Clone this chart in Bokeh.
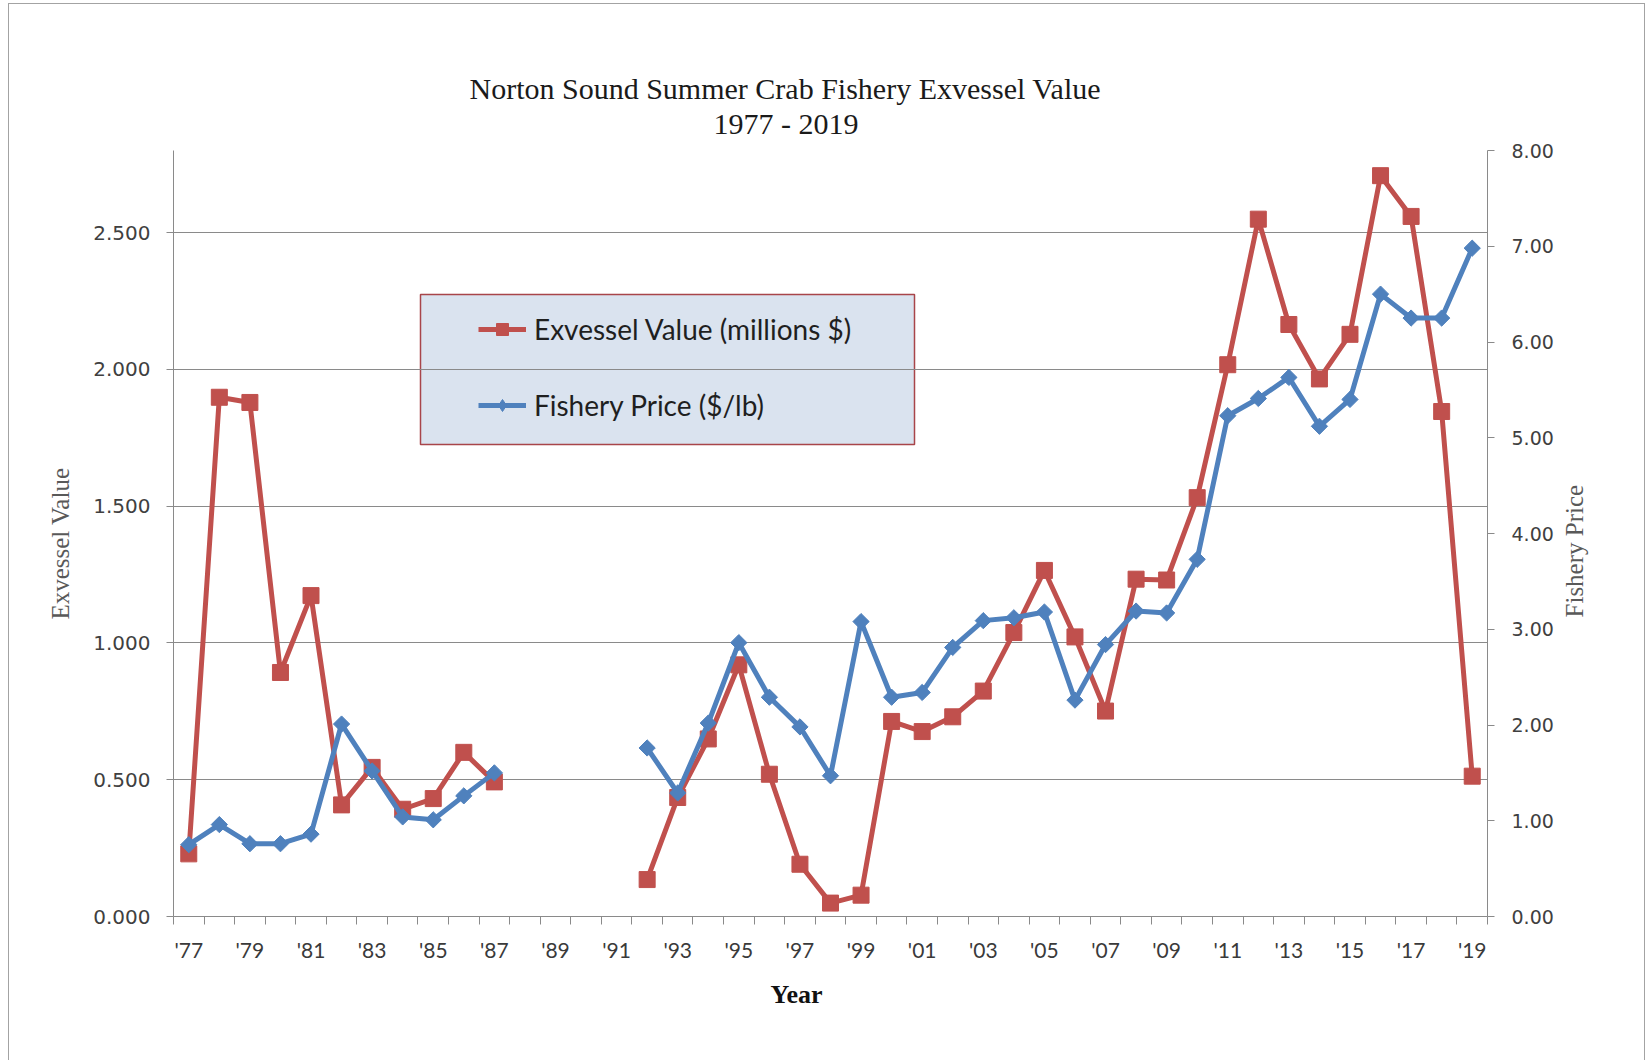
import math
from bokeh.plotting import figure
from bokeh.models import (Range1d, LinearAxis, FixedTicker, BoxAnnotation, Legend,
                          LegendItem, Title, ColumnDataSource, PrintfTickFormatter)
from bokeh.embed import file_html
from bokeh.resources import INLINE

nan = float("nan")

# ---------------- data ----------------
years = list(range(1977, 2020))
exvessel_value = [0.229, 1.898, 1.879, 0.892, 1.173, 0.408, 0.545, 0.392, 0.431, 0.600, 0.492,
                  nan, nan, nan, nan,
                  0.135, 0.435, 0.649, 0.920, 0.520, 0.191, 0.049, 0.078, 0.713, 0.676,
                  0.730, 0.824, 1.038, 1.265, 1.022, 0.751, 1.233, 1.230, 1.531, 2.017,
                  2.549, 2.164, 1.965, 2.128, 2.708, 2.559, 1.846, 0.513]
fishery_price = [0.75, 0.96, 0.76, 0.76, 0.86, 2.01, 1.52, 1.04, 1.01, 1.26, 1.50,
                 nan, nan, nan, nan,
                 1.76, 1.29, 2.02, 2.86, 2.29, 1.98, 1.47, 3.08, 2.29, 2.34,
                 2.81, 3.09, 3.12, 3.18, 2.26, 2.84, 3.19, 3.17, 3.73, 5.23,
                 5.41, 5.63, 5.12, 5.40, 6.50, 6.25, 6.25, 6.98]
label_years = list(range(1977, 2020, 2))
x_tick_labels = ["'77", "'79", "'81", "'83", "'85", "'87", "'89", "'91", "'93", "'95", "'97",
                 "'99", "'01", "'03", "'05", "'07", "'09", "'11", "'13", "'15", "'17", "'19"]
left_ticks = [0.0, 0.5, 1.0, 1.5, 2.0, 2.5]
right_ticks = [0, 1, 2, 3, 4, 5, 6, 7, 8]

RED = "#C0504D"
BLUE = "#4F81BD"
GRID = "#8a8a8a"
SERIF = "Liberation Serif"
SANS = "DejaVu Sans"
NARROW = "Lato"

# ---------------- layout (canvas px) ----------------
W, H = 1637, 1057
ML, MR, MT, MB = 164, 159, 146, 145
X0, X1 = 1976.5, 2019.5
Y0, Y1 = 0.0, 2.8
P0, P1 = 0.0, 8.0
FW, FH = W - ML - MR, H - MT - MB


def px2x(px):
    return X0 + (px - ML) / FW * (X1 - X0)


def py2y(py):
    return Y0 + (MT + FH - py) / FH * (Y1 - Y0)


def py2p(py):
    return P0 + (MT + FH - py) / FH * (P1 - P0)


src = ColumnDataSource(dict(year=years, value=exvessel_value, price=fishery_price))

p = figure(width=W, height=H, x_range=Range1d(X0, X1), y_range=Range1d(Y0, Y1),
           output_backend="svg", toolbar_location=None, title=None,
           min_border_left=ML, min_border_right=MR, min_border_top=MT, min_border_bottom=MB)
p.outline_line_color = None
p.background_fill_color = "white"
p.border_fill_color = "white"
p.styles = {"border-left": "1px solid #a3a3a3", "border-top": "1px solid #a3a3a3",
            "border-right": "1px solid #a3a3a3", "margin-left": "8px", "margin-top": "3px"}

p.extra_y_ranges = {"price": Range1d(P0, P1)}

# x axis
xa = p.xaxis[0]
xa.ticker = FixedTicker(ticks=label_years, minor_ticks=[y - 0.5 for y in years] + [years[-1] + 0.5])
xa.major_label_overrides = {y: lab for y, lab in zip(label_years, x_tick_labels)}
xa.major_tick_line_color = None
xa.minor_tick_line_color = GRID
xa.minor_tick_out = 8
xa.minor_tick_in = 0
xa.axis_line_color = GRID
xa.major_label_text_font = NARROW
xa.major_label_text_font_size = "21px"
xa.major_label_text_color = "#3a3a3a"
xa.major_label_standoff = 12

# left axis
ya = p.yaxis[0]
ya.ticker = FixedTicker(ticks=left_ticks)
ya.formatter = PrintfTickFormatter(format="%.3f")
ya.minor_tick_line_color = None
ya.major_tick_line_color = GRID
ya.major_tick_out = 7
ya.major_tick_in = 0
ya.axis_line_color = GRID
ya.major_label_text_font = SANS
ya.major_label_text_font_size = "20px"
ya.major_label_text_color = "#404040"
ya.major_label_standoff = 16

# right axis
ra = LinearAxis(y_range_name="price", ticker=FixedTicker(ticks=right_ticks),
                formatter=PrintfTickFormatter(format="%.2f"))
ra.minor_tick_line_color = None
ra.major_tick_line_color = GRID
ra.major_tick_out = 7
ra.major_tick_in = 0
ra.axis_line_color = GRID
ra.major_label_text_font = SANS
ra.major_label_text_font_size = "19px"
ra.major_label_text_color = "#404040"
ra.major_label_standoff = 17
p.add_layout(ra, "right")


def label_axis(text, anchor, range_name=None, standoff=10):
    """An axis without line/ticks whose single tick label is the axis title,
    rotated to read bottom-to-top and anchored at `anchor` (in range units)."""
    anchor = round(anchor, 3)
    kw = dict(ticker=FixedTicker(ticks=[anchor]), major_label_overrides={anchor: text},
              axis_line_color=None, major_tick_line_color=None, minor_tick_line_color=None,
              major_tick_out=0, major_tick_in=0, major_label_standoff=standoff,
              major_label_orientation=math.pi / 2,
              major_label_text_font=SERIF, major_label_text_font_size="25px",
              major_label_text_font_style="normal", major_label_text_color="#595959")
    if range_name:
        kw["y_range_name"] = range_name
    return LinearAxis(**kw)


# axis titles: left one anchored at its top end, right one at its bottom end
p.add_layout(label_axis("Exvessel Value", py2y(463), standoff=30), "left")
p.add_layout(label_axis("Fishery Price", py2p(613), range_name="price", standoff=18), "right")

# grid
p.xgrid.visible = False
p.ygrid.ticker = FixedTicker(ticks=left_ticks)
p.ygrid.grid_line_color = GRID
p.ygrid.grid_line_width = 1

# titles
sub = Title(text="1977 - 2019", align="left", offset=540, vertical_align="top",
            text_font=SERIF, text_font_size="30px", text_font_style="normal",
            text_color="#1a1a1a", standoff=18)
p.add_layout(sub, "above")
main = Title(text="Norton Sound Summer Crab Fishery Exvessel Value", align="left", offset=296,
             text_font=SERIF, text_font_size="30px", text_font_style="normal",
             text_color="#1a1a1a", standoff=-15)
p.add_layout(main, "above")

year_t = Title(text="Year", align="left", offset=597, text_font=SERIF, text_font_size="26px",
               text_font_style="bold", text_color="#111111", standoff=26)
p.add_layout(year_t, "below")

# legend frame (screen px converted to data coordinates)
box = BoxAnnotation(left=px2x(411), right=px2x(905), top=py2y(290), bottom=py2y(440),
                    fill_color="#DAE3EF", fill_alpha=1.0, line_color="#A8454A", line_alpha=1.0,
                    line_width=1.5, level="image")
p.add_layout(box)

# series
r_line = p.line("year", "value", source=src, line_color=RED, line_width=5, line_join="round")
r_pts = p.scatter("year", "value", source=src, marker="square", size=16, fill_color=RED,
                  line_color=RED)
b_line = p.line("year", "price", source=src, y_range_name="price", line_color=BLUE,
                line_width=5, line_join="round")
b_pts = p.scatter("year", "price", source=src, y_range_name="price", marker="square",
                  angle=math.pi / 4, size=11.5, fill_color=BLUE, line_color=BLUE)
# legend-only diamond glyph (no data drawn)
b_leg = p.scatter(x=[nan], y=[nan], y_range_name="price", marker="diamond", size=22,
                  fill_color=BLUE, line_color=BLUE)

legend = Legend(items=[LegendItem(label="Exvessel Value (millions $)", renderers=[r_line, r_pts]),
                       LegendItem(label="Fishery Price ($/lb)", renderers=[b_line, b_leg])],
                location=(305, 494), padding=0, margin=0, spacing=42, label_height=30,
                glyph_height=30, glyph_width=48, label_standoff=8,
                background_fill_alpha=0, border_line_color=None,
                label_text_font=NARROW, label_text_font_size="28px", label_text_color="#1f1f1f")
p.add_layout(legend)

open("out.html", "w").write(file_html(p, INLINE))
